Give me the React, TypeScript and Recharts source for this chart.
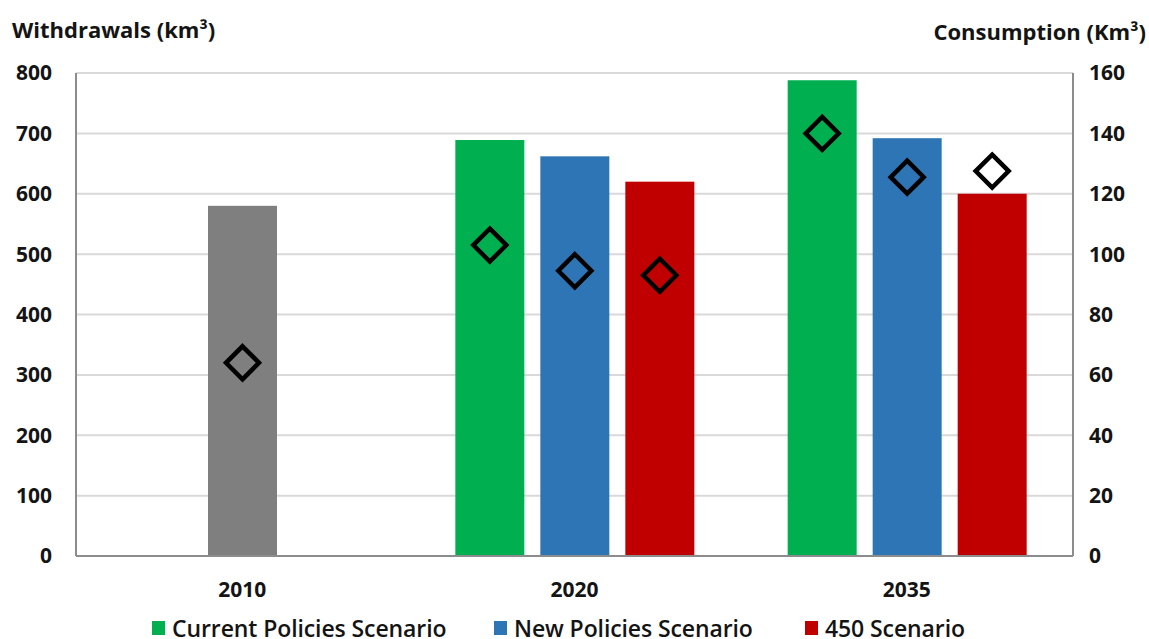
import React from 'react';
import { ComposedChart, Bar, XAxis, YAxis, CartesianGrid, Cell } from 'recharts';

const years = ['2010', '2020', '2035'];
// withdrawals (km3), left axis
const withdrawalsLeft = [null, 689, 788]; // Current Policies Scenario
const withdrawalsMid = [580, 662, 692]; // 2010 / New Policies Scenario
const withdrawalsRight = [null, 620, 600]; // 450 Scenario
// consumption (km3), right axis
const consumptionLeft = [null, 103, 140];
const consumptionMid = [64, 94.5, 125.5];
const consumptionRight = [null, 93, 127.5];

const leftTicks = [0, 100, 200, 300, 400, 500, 600, 700, 800];
const rightTicks = [0, 20, 40, 60, 80, 100, 120, 140, 160];

const midColors = ['#7F7F7F', '#2E75B6', '#2E75B6'];
const GREEN = '#00B050';
const RED = '#C00000';

const legendNames = ['Current Policies Scenario', 'New Policies Scenario', '450 Scenario'];
const legendColors = [GREEN, '#2E75B6', RED];

const data = years.map((year, i) => ({
  year,
  wl: withdrawalsLeft[i],
  wm: withdrawalsMid[i],
  wr: withdrawalsRight[i],
  cl: consumptionLeft[i],
  cm: consumptionMid[i],
  cr: consumptionRight[i],
}));

const FONT = '"Open Sans", "Noto Sans", sans-serif';
const TEXT = '#141414';

const rectShape = (key: string) => (props: any) => {
  const v = props.payload ? props.payload[key] : null;
  if (v == null) return <g />;
  const { x, y, width, height, fill } = props;
  return <rect x={x} y={y} width={width} height={height} fill={fill} />;
};

const diamondShape = (key: string) => (props: any) => {
  const v = props.payload ? props.payload[key] : null;
  if (v == null) return <g />;
  const cx = props.x + props.width / 2;
  const cy = props.y;
  const r = 16.5;
  return (
    <path
      d={`M${cx},${cy - r}L${cx + r},${cy}L${cx},${cy + r}L${cx - r},${cy}Z`}
      fill="none"
      stroke="#000"
      strokeWidth={4.5}
    />
  );
};

const tickStyle = { fontFamily: FONT, fontSize: 21, fontWeight: 700, fill: TEXT };

export default function App() {
  return (
    <div style={{ position: 'absolute', left: 0, top: 0, width: 1149, height: 639, background: '#fff', overflow: 'hidden' }}>
      <ComposedChart
        width={1149}
        height={639}
        data={data}
        margin={{ top: 73, right: 0, bottom: 0, left: 0 }}
        barGap={16}
      >
        <CartesianGrid yAxisId="left" xAxisId="main" vertical={false} stroke="#D9D9D9" strokeWidth={2} />
        <XAxis
          xAxisId="main"
          dataKey="year"
          height={83}
          tickLine={false}
          tickSize={0}
          tickMargin={26}
          axisLine={{ stroke: '#8C8C8C', strokeWidth: 2 }}
          tick={tickStyle}
          interval={0}
        />
        <XAxis xAxisId="cons" dataKey="year" orientation="top" height={0} hide />
        <YAxis
          yAxisId="left"
          orientation="left"
          width={76}
          domain={[0, 800]}
          ticks={leftTicks}
          tickLine={false}
          tickSize={0}
          tickMargin={24}
          axisLine={{ stroke: '#8C8C8C', strokeWidth: 2 }}
          tick={tickStyle}
          interval={0}
        />
        <YAxis
          yAxisId="right"
          orientation="right"
          width={76}
          domain={[0, 160]}
          ticks={rightTicks}
          tickLine={false}
          tickSize={0}
          tickMargin={16}
          axisLine={{ stroke: '#8C8C8C', strokeWidth: 2 }}
          tick={tickStyle}
          interval={0}
        />
        <Bar xAxisId="main" yAxisId="left" dataKey="wl" barSize={69} fill={GREEN} shape={rectShape('wl')} isAnimationActive={false} />
        <Bar xAxisId="main" yAxisId="left" dataKey="wm" barSize={69} shape={rectShape('wm')} isAnimationActive={false}>
          {data.map((d, i) => (
            <Cell key={d.year} fill={midColors[i]} />
          ))}
        </Bar>
        <Bar xAxisId="main" yAxisId="left" dataKey="wr" barSize={69} fill={RED} shape={rectShape('wr')} isAnimationActive={false} />
        <Bar xAxisId="cons" yAxisId="right" dataKey="cl" barSize={69} fill="none" shape={diamondShape('cl')} isAnimationActive={false} />
        <Bar xAxisId="cons" yAxisId="right" dataKey="cm" barSize={69} fill="none" shape={diamondShape('cm')} isAnimationActive={false} />
        <Bar xAxisId="cons" yAxisId="right" dataKey="cr" barSize={69} fill="none" shape={diamondShape('cr')} isAnimationActive={false} />
      </ComposedChart>

      <div style={{ position: 'absolute', left: 12, top: 14, fontFamily: FONT, fontSize: 22, fontWeight: 700, color: TEXT, whiteSpace: 'nowrap' }}>
        Withdrawals (km³)
      </div>
      <div style={{ position: 'absolute', right: 3, top: 16, fontFamily: FONT, fontSize: 22, fontWeight: 700, color: TEXT, whiteSpace: 'nowrap' }}>
        Consumption (Km³)
      </div>

      {legendNames.map((name, i) => (
        <div
          key={name}
          style={{
            position: 'absolute',
            left: [152, 494, 805][i],
            top: 612,
            height: 32,
            display: 'flex',
            alignItems: 'center',
            fontFamily: FONT,
            fontSize: 23,
            fontWeight: 600,
            color: TEXT,
            whiteSpace: 'nowrap',
            letterSpacing: -0.1,
          }}
        >
          <span style={{ display: 'inline-block', width: 13, height: 14, background: legendColors[i], marginRight: 7 }} />
          {name}
        </div>
      ))}
    </div>
  );
}
